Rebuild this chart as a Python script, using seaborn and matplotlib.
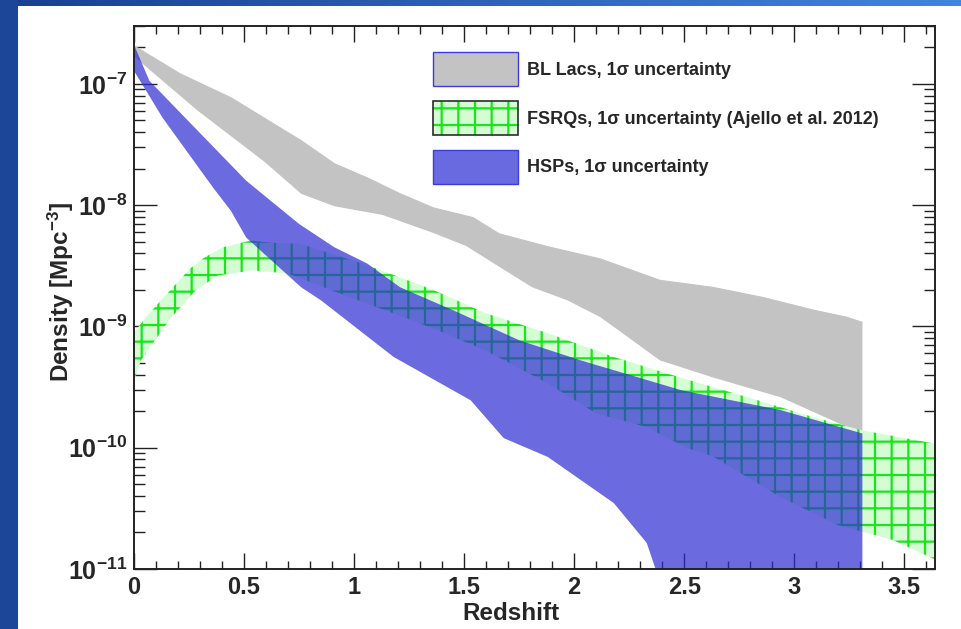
import numpy as np
import pandas as pd
import matplotlib
matplotlib.use("Agg")
import matplotlib.pyplot as plt
import seaborn as sns
from matplotlib.patches import Patch, Rectangle
from matplotlib.legend_handler import HandlerTuple
from matplotlib.ticker import MultipleLocator, LogLocator, FixedLocator, FuncFormatter, NullFormatter

# ---------------- data ----------------
# BL Lacs 1-sigma band
bll_up_z = [0, 0.21, 0.44, 0.76, 0.91, 1.06, 1.21, 1.36, 1.54, 1.66, 1.89, 2.12, 2.39, 2.63, 2.86, 3.09, 3.24, 3.31]
bll_up_n = [2.06e-7, 1.21e-7, 7.7e-8, 3.4e-8, 2.2e-8, 1.68e-8, 1.24e-8, 9.5e-9, 7.9e-9, 5.8e-9, 4.5e-9, 3.6e-9,
            2.4e-9, 2.1e-9, 1.73e-9, 1.36e-9, 1.19e-9, 1.08e-9]
bll_lo_z = [0, 0.04, 0.29, 0.59, 0.76, 0.91, 1.13, 1.36, 1.51, 1.66, 1.81, 1.97, 2.12, 2.39, 2.63, 2.94, 3.24, 3.31]
bll_lo_n = [1.7e-7, 1.46e-7, 6.0e-8, 2.3e-8, 1.24e-8, 9.8e-9, 8.3e-9, 5.9e-9, 4.6e-9, 3.1e-9, 2.1e-9, 1.64e-9,
            1.19e-9, 5.25e-10, 3.8e-10, 2.6e-10, 1.48e-10, 1.34e-10]

# FSRQs 1-sigma band (Ajello et al. 2012)
fsrq_up_z = [0, 0.06, 0.155, 0.255, 0.32, 0.405, 0.53, 0.62, 0.755, 1.06, 1.36, 1.6, 1.88, 2.18, 2.48, 2.79, 3.09,
             3.31, 3.64]
fsrq_up_n = [8.9e-10, 1.23e-9, 1.9e-9, 3.0e-9, 3.7e-9, 4.5e-9, 5.1e-9, 4.9e-9, 4.8e-9, 3.2e-9, 2.0e-9, 1.28e-9,
             8.8e-10, 5.6e-10, 3.8e-10, 2.6e-10, 1.78e-10, 1.39e-10, 1.08e-10]
fsrq_lo_z = [0, 0.03, 0.095, 0.17, 0.28, 0.38, 0.54, 0.70, 0.9, 1.18, 1.38, 1.6, 1.88, 2.1, 2.33, 2.51, 2.63, 2.94,
             3.2, 3.45, 3.64]
fsrq_lo_n = [3.5e-10, 5.2e-10, 7.7e-10, 1.19e-9, 1.98e-9, 2.63e-9, 2.9e-9, 2.73e-9, 1.98e-9, 1.28e-9, 9.3e-10,
             6.3e-10, 3.4e-10, 1.92e-10, 1.48e-10, 1.0e-10, 8.5e-11, 3.9e-11, 2.3e-11, 1.73e-11, 1.2e-11]

# HSPs 1-sigma band
hsp_up_z = [0, 0.07, 0.29, 0.51, 0.75, 0.91, 1.06, 1.21, 1.45, 1.75, 2.03, 2.49, 2.94, 3.31]
hsp_up_n = [2.1e-7, 1.06e-7, 4.1e-8, 1.59e-8, 7.0e-9, 4.5e-9, 3.3e-9, 2.1e-9, 1.36e-9, 7.7e-10, 5.25e-10,
            2.97e-10, 2.04e-10, 1.31e-10]
hsp_lo_z = [0, 0.13, 0.36, 0.44, 0.51, 0.76, 0.85, 1.18, 1.53, 1.68, 1.88, 2.18, 2.33, 2.37, 2.5, 3.31]
hsp_lo_n = [1.28e-7, 5.25e-8, 1.39e-8, 9.0e-9, 5.4e-9, 2.1e-9, 1.64e-9, 5.6e-10, 2.46e-10, 1.2e-10, 8.4e-11,
            3.5e-11, 1.64e-11, 1.0e-11, 1e-12, 1e-12]

labels = ["BL Lacs, 1\u03c3 uncertainty",
          "FSRQs, 1\u03c3 uncertainty (Ajello et al. 2012)",
          "HSPs, 1\u03c3 uncertainty"]
x_ticks = [0, 0.5, 1, 1.5, 2, 2.5, 3, 3.5]
x_tick_labels = ["0", "0.5", "1", "1.5", "2", "2.5", "3", "3.5"]
y_ticks = [1e-11, 1e-10, 1e-9, 1e-8, 1e-7]

# ---------------- style ----------------
sns.set_theme(style="ticks")
plt.rcParams["font.family"] = ["Liberation Sans", "DejaVu Sans"]
plt.rcParams["mathtext.fontset"] = "custom"
plt.rcParams["mathtext.rm"] = "Liberation Sans"
plt.rcParams["mathtext.bf"] = "Liberation Sans:bold"
plt.rcParams["mathtext.it"] = "Liberation Sans:italic"
plt.rcParams["hatch.linewidth"] = 1.6

fig = plt.figure(figsize=(9.62, 6.29), dpi=100)

# slide background: blue strips on left and top
bg = fig.add_axes([0, 0, 1, 1], zorder=-10)
bg.set_xlim(0, 962)
bg.set_ylim(629, 0)
bg.axis("off")
c0 = np.array([0.10, 0.25, 0.56])
c1 = np.array([0.26, 0.52, 0.86])
t = np.linspace(0, 1, 200)
grad = (c0[None, :] * (1 - t[:, None]) + c1[None, :] * t[:, None])[None, :, :]
bg.imshow(grad, extent=(0, 962, 629, 0), aspect="auto", interpolation="bilinear")
bg.add_patch(Rectangle((0, 0), 18, 629, color=(0.11, 0.28, 0.60), lw=0))
bg.add_patch(Rectangle((18, 6), 962 - 18, 629 - 6, color="white", lw=0))

ax = fig.add_axes([134 / 962, 1 - 569 / 629, (935 - 134) / 962, (569 - 26) / 629])
ax.set_facecolor("white")

gray_c = "#c3c3c3"
green_face = "#d4fdd4"
green_hatch = "#19e619"
blue_c = "#2d2dd2"

# BL Lacs band
ax.fill(np.r_[bll_up_z, bll_lo_z[::-1]], np.r_[bll_up_n, bll_lo_n[::-1]],
        facecolor=gray_c, edgecolor="none", lw=0, zorder=2)
df_bll = pd.DataFrame({"z": bll_up_z, "n": bll_up_n})
sns.lineplot(data=df_bll, x="z", y="n", ax=ax, color=gray_c, lw=0.8, zorder=2, estimator=None, sort=False)

# FSRQs band
ax.fill(np.r_[fsrq_up_z, fsrq_lo_z[::-1]], np.r_[fsrq_up_n, fsrq_lo_n[::-1]],
        facecolor=green_face, edgecolor=green_hatch, hatch="+", lw=0, zorder=3)

# HSPs band
ax.fill(np.r_[hsp_up_z, hsp_lo_z[::-1]], np.r_[hsp_up_n, hsp_lo_n[::-1]],
        facecolor=blue_c, alpha=0.7, edgecolor="none", lw=0, zorder=4)

ax.set_yscale("log")
ax.set_xlim(0, 3.64)
ax.set_ylim(1e-11, 3e-7)

ax.xaxis.set_minor_locator(MultipleLocator(0.1))
ax.set_xticks(x_ticks)
ax.set_xticklabels(x_tick_labels)
ax.yaxis.set_major_locator(FixedLocator(y_ticks))
ax.yaxis.set_minor_locator(LogLocator(base=10, subs=np.arange(2, 10)))
ax.yaxis.set_minor_formatter(NullFormatter())
ax.yaxis.set_major_formatter(FuncFormatter(
    lambda v, p: r"$\mathbf{10^{%d}}$" % int(round(np.log10(v)))))

ax.tick_params(which="both", direction="in", top=True, right=True, color="#222222", width=1.0, zorder=10)
ax.tick_params(axis="x", which="major", length=11.5, pad=5, labelsize=17)
ax.tick_params(axis="x", which="minor", length=5.8)
ax.tick_params(axis="y", which="major", length=16.5, pad=5, labelsize=18)
ax.tick_params(axis="y", which="minor", length=8)
for lab in ax.get_xticklabels():
    lab.set_fontweight("bold")
for s in ax.spines.values():
    s.set_linewidth(1.4)
    s.set_color("#222222")
    s.set_zorder(10)

ax.set_xlabel("Redshift", fontsize=17.5, fontweight="bold")
ax.xaxis.set_label_coords(0.47, -0.061)
ax.set_ylabel(r"Density [Mpc$^{\mathbf{-3}}$]", fontsize=17.5, fontweight="bold")
ax.yaxis.set_label_coords(-0.072, 0.51)

handles = [
    Patch(facecolor=gray_c, edgecolor="#3a3ae0", lw=1.0),
    (Patch(facecolor=green_face, edgecolor=green_hatch, hatch="+", lw=0),
     Patch(facecolor="none", edgecolor="#2b2b2b", lw=1.2)),
    Patch(facecolor="#6a6ae0", edgecolor="#3a3ae0", lw=1.0),
]
leg = ax.legend(handles, labels, loc="upper left", bbox_to_anchor=(0.3735, 0.952), frameon=False,
                prop={"size": 13, "weight": "bold"}, handlelength=4.7, handleheight=2.53,
                labelspacing=0.82, handletextpad=0.5, borderaxespad=0, borderpad=0,
                handler_map={tuple: HandlerTuple(ndivide=1, pad=0)})
leg.set_zorder(20)

fig.savefig("out.png", dpi=100, facecolor="white")
